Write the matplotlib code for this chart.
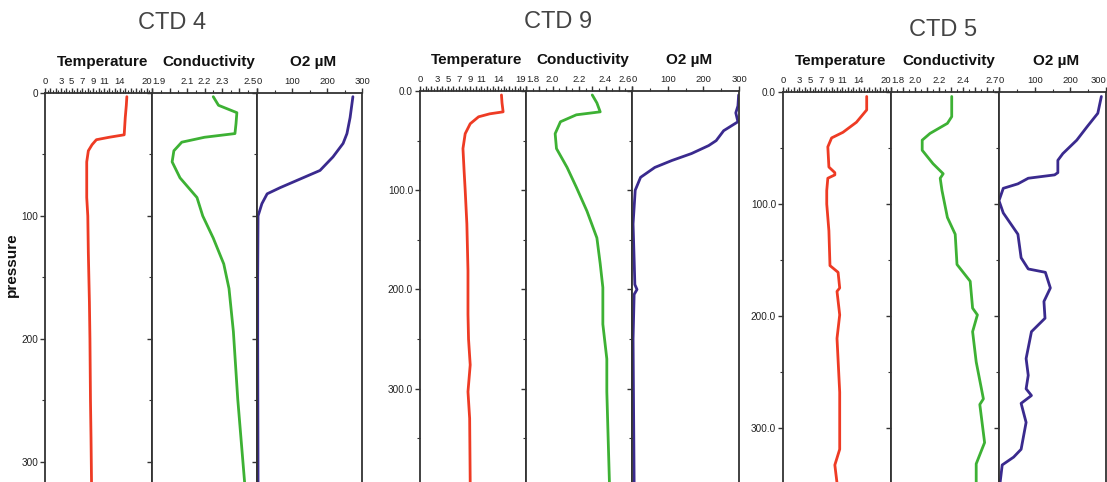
import numpy as np
import matplotlib
matplotlib.use('Agg')
import matplotlib.pyplot as plt

# ---- data (pressure vs value) ----
# CTD 4
t4_p = [3, 10, 20, 34, 36, 38, 42, 47, 56, 70, 85, 100, 130, 170, 200, 250, 280, 318]
t4_v = [15.3, 15.2, 15.0, 14.8, 12.0, 9.6, 8.8, 8.1, 7.8, 7.8, 7.8, 8.0, 8.1, 8.3, 8.4, 8.5, 8.6, 8.7]
c4_p = [3, 10, 16, 25, 33, 36, 40, 47, 56, 69, 85, 100, 118, 139, 159, 194, 249, 318]
c4_v = [2.25, 2.28, 2.385, 2.38, 2.374, 2.2, 2.07, 2.025, 2.015, 2.06, 2.157, 2.19, 2.25, 2.31, 2.34, 2.365, 2.39, 2.43]
o4_p = [3, 20, 33, 41, 52, 63, 70, 77, 82, 90, 100, 150, 200, 318]
o4_v = [274, 266, 257, 246, 217, 180, 123, 66, 29, 14, 3, 2, 2, 3]

# CTD 9
t9_p = [4, 12, 21, 23, 26, 33, 43, 58, 80, 100, 134, 181, 225, 250, 276, 303, 330, 396]
t9_v = [14.6, 14.7, 14.9, 12.5, 10.5, 9.0, 8.1, 7.7, 7.9, 8.1, 8.4, 8.6, 8.6, 8.7, 9.0, 8.6, 8.9, 9.0]
c9_p = [4, 12, 21, 24, 31, 43, 58, 77, 97, 121, 148, 174, 198, 235, 270, 303, 350, 396]
c9_v = [2.30, 2.335, 2.36, 2.18, 2.06, 2.02, 2.03, 2.11, 2.18, 2.26, 2.335, 2.36, 2.38, 2.38, 2.41, 2.41, 2.42, 2.43]
o9_p = [4, 15, 22, 31, 40, 50, 55, 63, 70, 77, 87, 100, 134, 170, 195, 200, 205, 250, 300, 396]
o9_v = [299, 297, 291, 297, 257, 236, 215, 167, 112, 64, 24, 9, 3, 6, 8, 14, 6, 3, 4, 6]

# CTD 5
t5_p = [4, 16, 27, 36, 41, 49, 67, 72, 74, 77, 88, 100, 124, 155, 161, 175, 178, 199, 220, 268, 319, 333, 349]
t5_v = [15.5, 15.5, 13.6, 11.1, 9.0, 8.3, 8.5, 9.6, 9.6, 8.3, 8.1, 8.1, 8.5, 8.7, 10.2, 10.5, 10.0, 10.5, 10.0, 10.5, 10.5, 9.6, 10.0]
c5_p = [4, 22, 28, 37, 43, 52, 64, 73, 77, 88, 112, 127, 154, 169, 193, 199, 214, 241, 274, 279, 313, 332, 349]
c5_v = [2.306, 2.306, 2.27, 2.125, 2.06, 2.06, 2.15, 2.235, 2.21, 2.225, 2.27, 2.335, 2.35, 2.46, 2.48, 2.52, 2.48, 2.51, 2.57, 2.54, 2.58, 2.51, 2.51]
o5_p = [4, 19, 31, 43, 55, 61, 72, 74, 77, 82, 86, 97, 108, 127, 148, 158, 161, 175, 187, 202, 214, 238, 253, 265, 271, 278, 295, 319, 326, 333, 349]
o5_v = [287, 277, 247, 218, 179, 165, 165, 156, 82, 53, 12, 0, 12, 53, 62, 82, 130, 144, 126, 129, 91, 76, 82, 76, 91, 62, 76, 62, 41, 9, 3]

titles = ['CTD 4', 'CTD 9', 'CTD 5']
headers = ['Temperature', 'Conductivity', 'O2 \u00b5M']

temp_ticks = [0, 3, 5, 7, 9, 11, 14]
cond_ticks = [[1.9, 2.1, 2.2, 2.3, 2.5], [1.8, 2.0, 2.2, 2.4, 2.6], [1.8, 2.0, 2.2, 2.4, 2.7]]
temp_max = [20, 19, 20]
cond_lim = [(1.9, 2.5), (1.8, 2.6), (1.8, 2.7)]
p_max = [318, 396, 350]
ytick_fmt = ['{:.0f}', '{:.1f}', '{:.1f}']

RED = '#ee3b24'
GREEN = '#3db134'
PURPLE = '#3a2a8e'

W, H = 1107, 482

plt.rcParams['font.family'] = ['Liberation Sans', 'DejaVu Sans']

fig = plt.figure(figsize=(W / 100, H / 100), dpi=100)
fig.patch.set_facecolor('white')


def px_axes(x0, x1, top, bottom):
    return fig.add_axes([x0 / W, (H - bottom) / H, (x1 - x0) / W, (bottom - top) / H])


# panel edges in pixels: [temp, cond, o2] boundaries
edges = [[45, 152, 257, 362], [420, 526, 632, 739], [783, 891, 999, 1106]]
tops = [93, 91, 92]
title_xy = [(172, 23), (558, 22), (943, 30)]

series = [
    [(t4_p, t4_v), (c4_p, c4_v), (o4_p, o4_v)],
    [(t9_p, t9_v), (c9_p, c9_v), (o9_p, o9_v)],
    [(t5_p, t5_v), (c5_p, c5_v), (o5_p, o5_v)],
]
colors = [RED, GREEN, PURPLE]

for g in range(3):
    e = edges[g]
    for k in range(3):
        ax = px_axes(e[k], e[k + 1], tops[g], H + 2)
        p, v = series[g][k]
        ax.plot(v, p, color=colors[k], lw=2.0, solid_capstyle='round')
        ax.set_ylim(p_max[g], 0)
        ax.xaxis.set_ticks_position('top')
        for s in ax.spines.values():
            s.set_color('#333333')
            s.set_linewidth(1.3)
        ax.spines['bottom'].set_visible(False)

        if k == 0:
            ax.set_xlim(0, temp_max[g])
            major = list(range(0, temp_max[g] + 1))
            ax.set_xticks(major)
            labs = [str(t) if (t in temp_ticks or t == temp_max[g]) else '' for t in major]
            ax.set_xticklabels(labs)
            ax.set_xticks(np.arange(0, temp_max[g], 0.5), minor=True)
        elif k == 1:
            lo, hi = cond_lim[g]
            ax.set_xlim(lo, hi)
            major = np.round(np.arange(lo, hi + 0.001, 0.1), 2)
            ax.set_xticks(major)
            ax.set_xticklabels([('%.1f' % t) if any(abs(t - c) < 1e-6 for c in cond_ticks[g]) else '' for t in major])
            ax.set_xticks(np.arange(lo, hi, 0.05), minor=True)
        else:
            ax.set_xlim(0, 300)
            ax.set_xticks([0, 100, 200, 300])
            ax.set_xticklabels(['0', '100', '200', '300'])
            ax.set_xticks([50, 150, 250], minor=True)

        ax.set_yticks(np.arange(0, p_max[g], 100))
        ax.set_yticks(np.arange(50, p_max[g], 100), minor=True)
        if k == 0:
            ax.set_yticklabels([ytick_fmt[g].format(t) for t in np.arange(0, p_max[g], 100)])
        else:
            ax.set_yticklabels([])
        ax.tick_params(axis='x', which='major', direction='out', length=3.5, width=1,
                       labelsize=6.8, colors='#333333', pad=1.5)
        ax.tick_params(axis='y', which='major', direction='out', length=3.5, width=1,
                       labelsize=7.2, colors='#333333', pad=1.5)
        ax.tick_params(axis='both', which='minor', direction='out', length=2, width=0.8, colors='#333333')

        xl = [t for t in ax.get_xticklabels() if t.get_text() != '']
        for lab in ax.get_xticklabels() + ax.get_yticklabels():
            lab.set_color('#222222')
        # edge labels run into the neighbour panel like in the original
        if k > 0:
            xl[0].set_horizontalalignment('left')
        if k < 2 or g == 2:
            xl[-1].set_horizontalalignment('right')

        cx = (e[k] + e[k + 1]) / 2 + 4
        fig.text(cx / W, (H - tops[g] + 31) / H, headers[k], ha='center', va='center',
                 fontsize=11, fontweight='bold', color='#111111')

    tx, ty = title_xy[g]
    fig.text(tx / W, (H - ty) / H, titles[g], ha='center', va='center', fontsize=17,
             color='#444444')

fig.text(12 / W, (H - 265) / H, 'pressure', rotation=90, ha='center', va='center',
         fontsize=11, fontweight='bold', color='#111111')

fig.savefig('out.png', dpi=100, facecolor='white')
